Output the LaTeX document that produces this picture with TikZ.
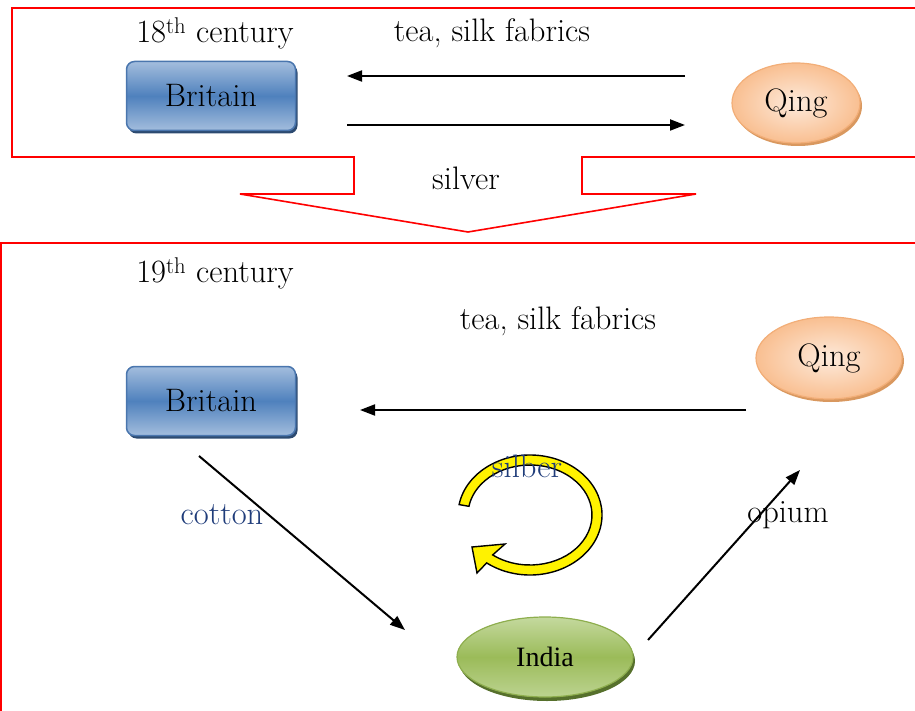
\documentclass[tikz,border=0pt]{standalone}
\usepackage{fontspec}
\newfontfamily\timesf{Liberation Serif}
\usetikzlibrary{arrows.meta,shapes.geometric,shadows,calc}
\definecolor{bluemid}{HTML}{4F81BD}
\definecolor{bluelight}{HTML}{A3BDDD}
\definecolor{blueshadow}{HTML}{2C4A70}
\definecolor{blueedge}{HTML}{4A76AE}
\definecolor{orangeedge}{HTML}{F2AE78}
\definecolor{orangein}{HTML}{FDEADB}
\definecolor{orangeout}{HTML}{F9BF91}
\definecolor{orangeshadow}{HTML}{D9985F}
\definecolor{greenmid}{HTML}{9BBB59}
\definecolor{greenlight}{HTML}{C4D99E}
\definecolor{greenedge}{HTML}{8EAE4E}
\definecolor{greenshadow}{HTML}{56702C}
\definecolor{labelblue}{HTML}{1F3C7A}
\tikzset{
  txt/.style={font=\fontsize{32.5}{36}\selectfont, inner sep=0pt},
  britbox/.style={rectangle, rounded corners=8pt, minimum width=169pt, minimum height=69pt,
    draw=blueedge, line width=1.5pt, top color=bluelight, bottom color=bluelight, middle color=bluemid,
    general shadow={fill=blueshadow, shadow xshift=2pt, shadow yshift=-3pt},
    font=\fontsize{32.5}{36}\selectfont},
  qingell/.style={ellipse, minimum width=#1, draw=orangeedge, line width=1.2pt,
    inner color=orangein, outer color=orangeout,
    general shadow={fill=orangeshadow, shadow xshift=2pt, shadow yshift=-3pt},
    font=\fontsize{32.5}{36}\selectfont, inner sep=0pt},
  indiaell/.style={ellipse, minimum width=176pt, minimum height=80pt, draw=greenedge, line width=1.2pt,
    top color=greenlight, bottom color=greenlight!80!greenmid, middle color=greenmid,
    general shadow={fill=greenshadow, shadow xshift=2pt, shadow yshift=-4pt},
    font=\timesf\fontsize{28}{32}\selectfont, inner sep=0pt},
  arr/.style={line width=2pt, -{Triangle[length=15pt,width=11pt]}},
  redline/.style={draw=red, line width=1.6pt},
}
\begin{document}
\begin{tikzpicture}[x=1pt,y=-1pt]
\useasboundingbox (0,0) rectangle (915,711);

% red frames
\draw[redline] (916,8) -- (12,8) -- (12,157) -- (354,157) -- (354,194) -- (240,194)
  -- (468,232) -- (696,194) -- (582,194) -- (582,157) -- (916,157);
\draw[redline] (916,243) -- (1,243) -- (1,712);

% top part
\node[txt] (c18) at (215,33) {18\textsuperscript{th} century};
\node[txt] (tea1) at (492,33) {tea, silk fabrics};
\node[txt] (silver) at (466,178) {silver};
\node[britbox] (b1) at (211,96) {Britain};
\node[qingell=128pt, minimum height=80pt] (q1) at (796,103) {Qing};

\coordinate (t1a) at (685,76);
\coordinate (t1b) at (347,76);
\coordinate (t2a) at (347,125);
\coordinate (t2b) at (685,125);
\draw[arr] (t1a) -- (t1b);
\draw[arr] (t2a) -- (t2b);

% bottom part
\node[txt] (c19) at (215,273) {19\textsuperscript{th} century};
\node[txt] (tea2) at (558,321) {tea, silk fabrics};
\node[britbox] (b2) at (211,401) {Britain};
\node[qingell=146pt, minimum height=82pt] (q2) at (829,358) {Qing};
\node[indiaell] (india) at (545,657) {India};

\coordinate (a1) at (746,410);
\coordinate (a2) at (360,410);
\coordinate (c1) at (199,456);
\coordinate (c2) at (405,630);
\coordinate (o1) at (648,640);
\coordinate (o2) at (800,470);
\draw[arr] (a1) -- (a2);
\draw[arr] (c1) -- (c2);
\draw[arr] (o1) -- (o2);

% circular arrow
\draw[fill=yellow, draw=black, line width=1.4pt, line join=miter]
  ($(530,515)+(-170:72 and 60)$) arc[start angle=-170, end angle=127, x radius=72, y radius=60]
  -- (477,573) -- (472,547) -- (505,544)
  -- ($(530,515)+(127:62 and 50)$) arc[start angle=127, end angle=-170, x radius=62, y radius=50]
  -- cycle;

\node[txt, text=labelblue] (cotton) at (222,515) {cotton};
\node[txt] (opium) at (788,515) {opium};
\node[txt, text=labelblue] (silber) at (527,466) {silber};
\end{tikzpicture}
\end{document}
